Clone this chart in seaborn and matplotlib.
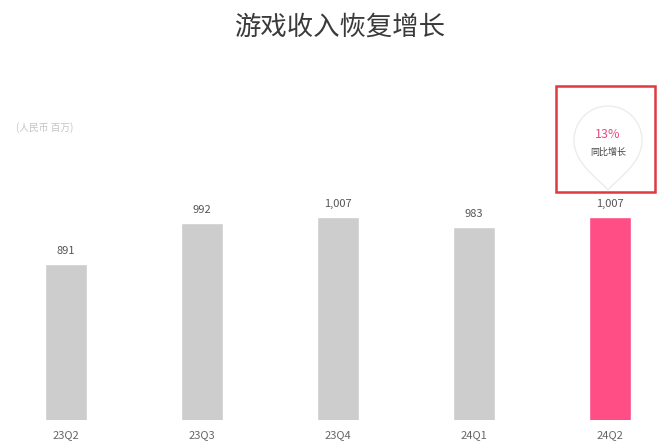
import pandas as pd
import matplotlib.pyplot as plt
import matplotlib.patches as mpatches
from matplotlib.path import Path
import seaborn as sns

# chart data
quarters = ['23Q2', '23Q3', '23Q4', '24Q1', '24Q2']
revenue = [891, 992, 1007, 983, 1007]
value_labels = ['891', '992', '1,007', '983', '1,007']
bar_colors = ['#cdcdcd', '#cdcdcd', '#cdcdcd', '#cdcdcd', '#ff4d85']

df = pd.DataFrame({'quarter': quarters, 'revenue': revenue})

sns.set_style('white')
plt.rcParams['font.family'] = ['Noto Sans CJK SC', 'DejaVu Sans']

fig = plt.figure(figsize=(6.57, 4.44), dpi=100)
ax = fig.add_axes([0, 24 / 444, 1, 320 / 444])

sns.barplot(data=df, x='quarter', y='revenue', hue='quarter', palette=bar_colors,
            legend=False, width=0.31, ax=ax, saturation=1)

ax.set_xlim(-0.485, 4.346)
ax.set_ylim(506, 1296)
ax.axis('off')

# value labels above the bars
for i, (v, lab) in enumerate(zip(revenue, value_labels)):
    ax.text(i, v + 20, lab, ha='center', va='bottom', fontsize=8, color='#555555')

# quarter labels under the bars
for i, q in enumerate(quarters):
    ax.text(i, 506 - 26, q, ha='center', va='top', fontsize=8, color='#666666',
            clip_on=False)

# title and unit
fig.text(340 / 657, 1 - 27 / 444, '游戏收入恢复增长', ha='center', va='center',
         fontsize=19, color='#3a3a3a', fontweight='light')
fig.text(16 / 657, 1 - 128 / 444, '(人民币 百万)', ha='left', va='center',
         fontsize=7, color='#c4c4c4')

# callout: red frame with pin-shaped bubble
W, H = 657, 444
frame = mpatches.Rectangle((556 / W, 1 - 192 / H), 99 / W, 106 / H,
                           transform=fig.transFigure, fill=False,
                           edgecolor='#e0393e', linewidth=1.8)
fig.patches.append(frame)

cx, cy, r = 608, 140, 34
k = 0.5523
pts = [(cx, cy + r + 16),
       (cx - 10, cy + r + 4), (cx - r, cy + 24), (cx - r, cy),
       (cx - r, cy - k * r), (cx - k * r, cy - r), (cx, cy - r),
       (cx + k * r, cy - r), (cx + r, cy - k * r), (cx + r, cy),
       (cx + r, cy + 24), (cx + 10, cy + r + 4), (cx, cy + r + 16)]
codes = [Path.MOVETO] + [Path.CURVE4] * 12
pin = Path([(x / W, 1 - y / H) for x, y in pts], codes)
fig.patches.append(mpatches.PathPatch(pin, transform=fig.transFigure,
                                      facecolor='white', edgecolor='#ececec', linewidth=1))
fig.text(608 / W, 1 - 135 / H, '13%', ha='center', va='center', fontsize=9, color='#e84a85')
fig.text(608 / W, 1 - 152 / H, '同比增长', ha='center', va='center', fontsize=6.5, color='#444444')

fig.savefig('out.png', dpi=100)
